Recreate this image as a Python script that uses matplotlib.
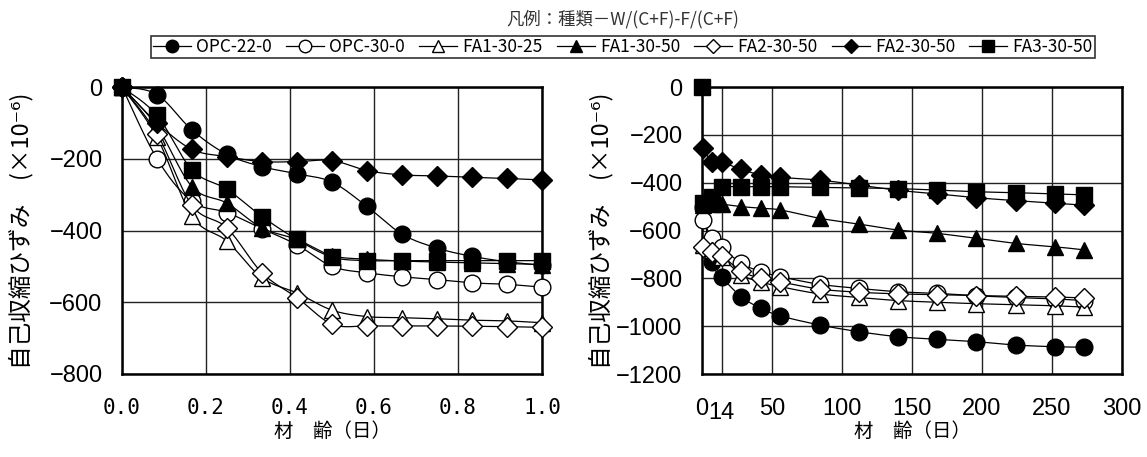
import numpy as np
import matplotlib
matplotlib.use('Agg')
import matplotlib.pyplot as plt
from matplotlib.lines import Line2D

plt.rcParams['font.family'] = ['Noto Sans CJK JP', 'DejaVu Sans']
plt.rcParams['axes.unicode_minus'] = True

# 左図: 材齢 0～1日 (2時間ごと)
x_early = [0, 1/12, 2/12, 3/12, 4/12, 5/12, 6/12, 7/12, 8/12, 9/12, 10/12, 11/12, 1.0]
early = {
    'OPC-22-0':  [0, -21, -120, -188, -222, -242, -265, -333, -410, -449, -472, -487, -497],
    'OPC-30-0':  [0, -200, -319, -350, -395, -440, -500, -518, -529, -537, -546, -550, -558],
    'FA1-30-25': [0, -140, -360, -430, -532, -574, -622, -640, -643, -646, -650, -652, -657],
    'FA1-30-50': [0, -110, -278, -324, -393, -425, -470, -480, -485, -488, -490, -492, -495],
    'FA2-30-50o': [0, -130, -330, -393, -518, -587, -661, -666, -666, -666, -667, -668, -670],
    'FA2-30-50f': [0, -100, -174, -194, -208, -208, -205, -233, -245, -248, -252, -255, -259],
    'FA3-30-50': [0, -79, -231, -285, -361, -425, -474, -484, -484, -484, -484, -484, -484],
}

# 右図: 材齢 1～273日
x_late = [1, 7, 14, 28, 42, 56, 84, 112, 140, 168, 196, 224, 252, 273]
late = {
    'OPC-22-0':  [-500, -730, -793, -877, -925, -957, -995, -1023, -1044, -1055, -1065, -1079, -1086, -1088],
    'OPC-30-0':  [-556, -633, -670, -737, -772, -793, -825, -842, -856, -863, -873, -880, -886, -893],
    'FA1-30-25': [-660, -680, -710, -785, -815, -835, -865, -880, -893, -900, -906, -910, -915, -920],
    'FA1-30-50': [-495, -490, -490, -500, -507, -514, -549, -573, -598, -612, -633, -654, -668, -681],
    'FA2-30-50o': [-670, -690, -705, -770, -800, -815, -845, -858, -865, -868, -872, -875, -878, -882],
    'FA2-30-50f': [-254, -315, -315, -344, -368, -378, -389, -410, -432, -447, -463, -475, -486, -494],
    'FA3-30-50': [-486, -458, -420, -417, -417, -417, -420, -422, -425, -431, -438, -442, -447, -451],
}
x_late_fa3 = [0] + x_late
late_fa3 = [0] + late['FA3-30-50']

labels = ['OPC-22-0', 'OPC-30-0', 'FA1-30-25', 'FA1-30-50', 'FA2-30-50', 'FA2-30-50', 'FA3-30-50']
keys = ['OPC-22-0', 'OPC-30-0', 'FA1-30-25', 'FA1-30-50', 'FA2-30-50o', 'FA2-30-50f', 'FA3-30-50']
styles = [
    dict(marker='o', mfc='black', ms=12),
    dict(marker='o', mfc='white', ms=12),
    dict(marker='^', mfc='white', ms=12),
    dict(marker='^', mfc='black', ms=12),
    dict(marker='D', mfc='white', ms=10),
    dict(marker='D', mfc='black', ms=10),
    dict(marker='s', mfc='black', ms=12),
]


def smooth(x, y, n=16):
    # Excel風の平滑線 (Catmull-Rom)
    p = np.column_stack([x, y]).astype(float)
    p = np.vstack([p[0], p, p[-1]])
    out = []
    t = np.linspace(0, 1, n)[:, None]
    for i in range(1, len(p) - 2):
        p0, p1, p2, p3 = p[i - 1], p[i], p[i + 1], p[i + 2]
        seg = 0.5 * (2 * p1 + (-p0 + p2) * t + (2 * p0 - 5 * p1 + 4 * p2 - p3) * t ** 2
                     + (-p0 + 3 * p1 - 3 * p2 + p3) * t ** 3)
        out.append(seg)
    out = np.vstack(out)
    return out[:, 0], out[:, 1]


fig = plt.figure(figsize=(11.47, 4.57), dpi=100)
ax1 = fig.add_axes([122 / 1147, 1 - 374 / 457, 420 / 1147, 287 / 457])
ax2 = fig.add_axes([702 / 1147, 1 - 374 / 457, 420 / 1147, 287 / 457])

tick_font = ['Liberation Sans Narrow', 'Liberation Sans', 'DejaVu Sans']

for ax, xs, data in [(ax1, x_early, early), (ax2, x_late, late)]:
    for i, (k, st) in enumerate(zip(keys, styles)):
        xx, yy = xs, data[k]
        if ax is ax2 and k == 'FA3-30-50':
            xx, yy = x_late_fa3, late_fa3
        sx, sy = smooth(xx, yy)
        ax.plot(sx, sy, color='black', lw=0.9, zorder=2 + i)
        ax.plot(xx, yy, ls='none', marker=st['marker'], mfc=st['mfc'], mec='black',
                mew=1.0, ms=st['ms'], zorder=2.5 + i, clip_on=False)
    ax.grid(True, color='#222222', lw=1.0)
    ax.set_axisbelow(True)
    for s in ax.spines.values():
        s.set_linewidth(1.8)
    ax.tick_params(length=0, pad=14)

# 左図の軸
ax1.set_xlim(0, 1.0)
ax1.set_ylim(-800, 0)
ax1.set_xticks([0, 0.2, 0.4, 0.6, 0.8, 1.0])
ax1.set_xticklabels(['0.0', '0.2', '0.4', '0.6', '0.8', '1.0'], family='DejaVu Sans Mono', fontsize=15)
ax1.set_yticks([0, -200, -400, -600, -800])
ax1.set_yticklabels(['0', '\u2212200', '\u2212400', '\u2212600', '\u2212800'], family=tick_font, fontsize=17)
ax1.tick_params(axis='x', pad=17)

# 右図の軸
ax2.set_xlim(0, 300)
ax2.set_ylim(-1200, 0)
ax2.set_xticks([0, 14, 50, 100, 150, 200, 250, 300])
ax2.set_xticklabels(['0', '14', '50', '100', '150', '200', '250', '300'], family=tick_font, fontsize=17)
ax2.set_yticks([0, -200, -400, -600, -800, -1000, -1200])
ax2.set_yticklabels(['0', '\u2212200', '\u2212400', '\u2212600', '\u2212800', '\u22121000', '\u22121200'],
                    family=tick_font, fontsize=17)
ax2.tick_params(axis='x', pad=17)
ax2.get_xticklabels()[1].set_y(-0.015)

ylab = '自己収縮ひずみ　(×10⁻⁶)'
for ax in (ax1, ax2):
    ax.set_ylabel(ylab, fontsize=17, va='center')
    ax.yaxis.set_label_coords(-0.24, 0.5)
    ax.set_xlabel('材　齢（日）', fontsize=14, va='center')
    ax.xaxis.set_label_coords(0.5, -0.2)

# 凡例
handles = [Line2D([], [], color='black', lw=0.9, marker=st['marker'], mfc=st['mfc'],
                  mec='black', ms=st['ms'] * 0.75) for st in styles]
leg = fig.legend(handles, labels, loc='center', bbox_to_anchor=(623 / 1147, 1 - 47 / 457),
                 ncol=7, fontsize=12.5, frameon=True, fancybox=False, edgecolor='black',
                 handlelength=2.2, handletextpad=0.3, columnspacing=0.8, borderpad=0.1,
                 borderaxespad=0)
leg.get_frame().set_linewidth(1.2)
fig.text(623 / 1147, 1 - 19 / 457, '凡例：種類－W/(C+F)-F/(C+F)', ha='center', va='center',
         fontsize=12.5, color='#333333')

fig.savefig('out.png', dpi=100)
